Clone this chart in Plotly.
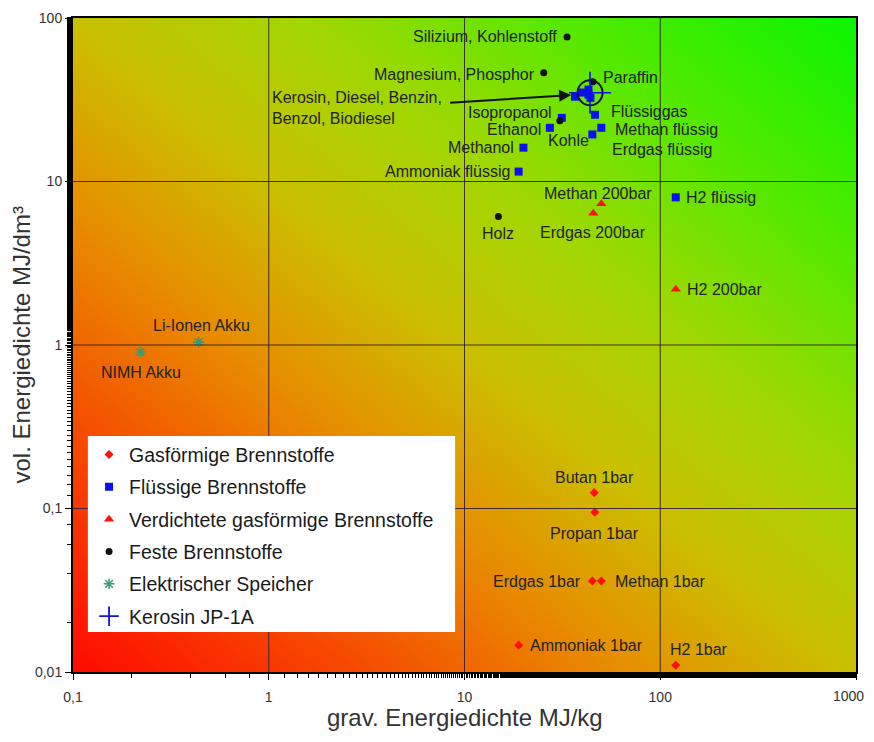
import numpy as np
import plotly.graph_objects as go

# ---------------- data ----------------
gas_names = ["Butan 1bar", "Propan 1bar", "Erdgas 1bar", "Methan 1bar", "Ammoniak 1bar", "H2 1bar"]
gas_x = [46.0, 46.3, 45.0, 50.0, 18.9, 120.0]
gas_y = [0.125, 0.095, 0.036, 0.036, 0.0146, 0.011]

liq_names = ["H2 flüssig", "Ammoniak flüssig", "Methanol", "Ethanol", "Isopropanol",
             "Flüssiggas", "Methan flüssig", "Erdgas flüssig",
             "Kerosin", "Diesel", "Benzin", "Benzol", "Biodiesel"]
liq_x = [120.0, 18.9, 20.0, 27.3, 31.4, 46.4, 50.0, 45.0, 43.0, 43.0, 44.0, 40.0, 36.7]
liq_y = [8.0, 11.5, 16.1, 21.3, 24.5, 25.6, 21.3, 19.4, 34.0, 36.5, 32.5, 35.0, 33.0]

comp_names = ["Methan 200bar", "Erdgas 200bar", "H2 200bar"]
comp_x = [50.0, 45.5, 120.0]
comp_y = [7.3, 6.4, 2.19]

solid_names = ["Silizium, Kohlenstoff", "Magnesium, Phosphor", "Paraffin", "Kohle", "Holz"]
solid_x = [33.4, 25.4, 45.3, 30.7, 14.9]
solid_y = [76.6, 46.2, 40.7, 23.5, 6.1]

elec_names = ["NIMH Akku", "Li-Ionen Akku"]
elec_x = [0.221, 0.438]
elec_y = [0.906, 1.04]

jet_name = "Kerosin JP-1A"
jet_x = [43.8]
jet_y = [34.9]

legend_names = ["Gasförmige Brennstoffe", "Flüssige Brennstoffe",
                "Verdichtete gasförmige Brennstoffe", "Feste Brennstoffe",
                "Elektrischer Speicher", "Kerosin JP-1A"]

x_tickvals = [0.1, 1, 10, 100, 1000]
x_ticktext = ["0,1", "1", "10", "100", "1000"]
y_tickvals = [0.01, 0.1, 1, 10, 100]
y_ticktext = ["0,01", "0,1", "1", "10", "100"]

group_label = "Kerosin, Diesel, Benzin,<br>Benzol, Biodiesel"
x_title = "grav. Energiedichte MJ/kg"
y_title = "vol. Energiedichte MJ/dm³"

# ---------------- label placement (style) ----------------
label_style = {
    "Butan 1bar": ("center", 0, 15),
    "Propan 1bar": ("center", 0, -21),
    "Erdgas 1bar": ("right", -9, 0),
    "Methan 1bar": ("left", 12, 0),
    "Ammoniak 1bar": ("left", 9, 0),
    "H2 1bar": ("left", -8, 16),
    "H2 flüssig": ("left", 8, 0),
    "Ammoniak flüssig": ("right", -7, 0),
    "Methanol": ("right", -7, 0),
    "Ethanol": ("right", -7, -2),
    "Isopropanol": ("right", -8, 5),
    "Flüssiggas": ("left", 14, 3),
    "Methan flüssig": ("left", 12, -2),
    "Erdgas flüssig": ("left", 18, -15),
    "Methan 200bar": ("center", -3, 10),
    "Erdgas 200bar": ("center", 0, -19),
    "H2 200bar": ("left", 9, 0),
    "Silizium, Kohlenstoff": ("right", -8, 0),
    "Magnesium, Phosphor": ("right", -7, -2),
    "Paraffin": ("left", 8, 4),
    "Kohle": ("center", 9, -20),
    "Holz": ("center", 0, -17),
    "NIMH Akku": ("center", 1, -20),
    "Li-Ionen Akku": ("center", 3, 17),
}

FONT = "Liberation Sans, Arial, Helvetica, sans-serif"
LBL = dict(family=FONT, size=16, color="#222222")
TICKFONT = dict(family=FONT, size=14, color="#333333")
XR = [-1, 3]
YR = [-2, 2]

fig = go.Figure()

# background gradient (red bottom-left -> green top-right)
lx = np.linspace(-1.05, 3.05, 60)
ly = np.linspace(-2.05, 2.05, 60)
LX, LY = np.meshgrid(lx, ly)
Z = ((LX + 1) / 4 + (LY + 2) / 4) / 2
fig.add_trace(go.Heatmap(
    x=10 ** lx, y=10 ** ly, z=Z, zsmooth="best", showscale=False, hoverinfo="skip",
    zmin=0, zmax=1,
    colorscale=[[0.0, "rgb(255,10,0)"], [0.2, "rgb(245,80,0)"], [0.35, "rgb(232,140,0)"],
                [0.5, "rgb(202,192,0)"], [0.65, "rgb(160,215,0)"], [0.8, "rgb(90,232,0)"],
                [1.0, "rgb(10,245,0)"]],
))

def add_series(name, xs, ys, symbol, color, size, lw=0, group=None):
    fig.add_trace(go.Scatter(
        x=xs, y=ys, mode="markers", name=name, legendgroup=group or name,
        marker=dict(symbol=symbol, color=color, size=size,
                    line=dict(width=lw, color=color)),
    ))

add_series(legend_names[0], gas_x, gas_y, "diamond", "#ff1010", 7)
add_series(legend_names[1], liq_x, liq_y, "square", "#0a10f0", 8)
add_series(legend_names[2], comp_x, comp_y, "triangle-up", "#ff1010", 9)
add_series(legend_names[3], solid_x, solid_y, "circle", "#111111", 7)
add_series(legend_names[4], elec_x, elec_y, "asterisk-open", "#3a9a70", 9, lw=1.5)

# Kerosin JP-1A: circle + cross
fig.add_trace(go.Scatter(
    x=jet_x, y=jet_y, mode="markers", showlegend=False, legendgroup="jet",
    marker=dict(symbol="circle-open", size=25, color="#101030",
                line=dict(width=2, color="#101030")),
    hoverinfo="skip",
))
fig.add_trace(go.Scatter(
    x=jet_x, y=jet_y, mode="markers", showlegend=False, legendgroup="jet",
    marker=dict(symbol="cross-thin-open", size=30, color="#1010e0",
                line=dict(width=1.6, color="#1010e0")),
))
# legend entry for Kerosin JP-1A (smaller symbol)
fig.add_trace(go.Scatter(
    x=[None], y=[None], mode="markers", name=legend_names[5], legendgroup="jet",
    marker=dict(symbol="cross-thin-open", size=14, color="#1010e0",
                line=dict(width=1.8, color="#1010e0")),
))

# gridlines drawn above the gradient (paper coords from tick values)
shapes = []
for v in x_tickvals[1:-1]:
    p = (np.log10(v) - XR[0]) / (XR[1] - XR[0])
    shapes.append(dict(type="line", xref="paper", yref="paper", x0=p, x1=p, y0=0, y1=1,
                       line=dict(color="rgba(50,30,60,0.9)", width=1), layer="above"))
for v in y_tickvals[1:-1]:
    p = (np.log10(v) - YR[0]) / (YR[1] - YR[0])
    shapes.append(dict(type="line", xref="paper", yref="paper", x0=0, x1=1, y0=p, y1=p,
                       line=dict(color="rgba(50,30,60,0.9)", width=1), layer="above"))
# legend box
shapes.append(dict(type="rect", xref="paper", yref="paper", x0=0.019, x1=0.488,
                   y0=0.061, y1=0.361, fillcolor="white", line=dict(width=0),
                   layer="above"))

# point labels
annotations = []
for names, xs, ys in [(gas_names, gas_x, gas_y), (liq_names, liq_x, liq_y),
                      (comp_names, comp_x, comp_y), (solid_names, solid_x, solid_y),
                      (elec_names, elec_x, elec_y)]:
    for n, xv, yv in zip(names, xs, ys):
        if n not in label_style:
            continue
        anc, dx, dy = label_style[n]
        annotations.append(dict(
            x=np.log10(xv), y=np.log10(yv), xref="x", yref="y", text=n,
            showarrow=False, xanchor=anc, yanchor="middle", xshift=dx, yshift=dy,
            font=LBL,
        ))

# group label with arrow pointing to the kerosene cluster
annotations.append(dict(
    x=np.log10(1.02), y=np.log10(28.0), xref="x", yref="y", text=group_label,
    showarrow=False, xanchor="left", yanchor="middle", align="left", font=LBL,
))
annotations.append(dict(
    x=np.log10(liq_x[12]) - 0.02, y=np.log10(liq_y[12]) + 0.01, xref="x", yref="y",
    ax=np.log10(8.3), ay=np.log10(30.3), axref="x", ayref="y",
    text="", showarrow=True, arrowhead=2, arrowsize=1.2, arrowwidth=2, arrowcolor="#111111",
))
# last x tick label placed so it stays inside the window
annotations.append(dict(
    x=np.log10(x_tickvals[-1]), y=0, xref="x", yref="paper", text=x_ticktext[-1],
    showarrow=False, xanchor="right", yanchor="middle", xshift=10, yshift=-24,
    font=TICKFONT,
))
# axis titles
annotations.append(dict(x=0.5, y=-0.070, xref="paper", yref="paper", text=x_title,
                        showarrow=False, xanchor="center", yanchor="middle",
                        font=dict(family=FONT, size=24, color="#333333")))
annotations.append(dict(x=-0.067, y=0.5, xref="paper", yref="paper", text=y_title,
                        showarrow=False, xanchor="center", yanchor="middle", textangle=-90,
                        font=dict(family=FONT, size=24, color="#333333")))

x_ticktext_shown = x_ticktext[:-1] + [""]

fig.update_layout(
    width=866, height=726,
    margin=dict(l=65, r=18, t=10, b=62),
    paper_bgcolor="white", plot_bgcolor="white",
    font=dict(family=FONT, color="#222222"),
    showlegend=True,
    legend=dict(
        x=0.0205, y=0.362, xanchor="left", yanchor="top",
        bgcolor="rgba(0,0,0,0)", borderwidth=0,
        font=dict(family=FONT, size=19.5, color="#1a1a1a"),
        tracegroupgap=4, itemsizing="trace",
    ),
    annotations=annotations,
    shapes=shapes,
)

axis_common = dict(
    type="log", showline=True, linecolor="black", linewidth=2, mirror=True,
    showgrid=False, automargin=False,
    ticks="outside", ticklen=6, tickcolor="black", zeroline=False,
    tickfont=TICKFONT,
    minor=dict(ticks="outside", ticklen=4, tickcolor="black", showgrid=False),
)
fig.update_xaxes(**axis_common, range=XR, tickvals=x_tickvals, ticktext=x_ticktext_shown,
                 ticklabelstandoff=5)
fig.update_yaxes(**axis_common, range=YR, tickvals=y_tickvals, ticktext=y_ticktext)

fig.write_html("out.html")
